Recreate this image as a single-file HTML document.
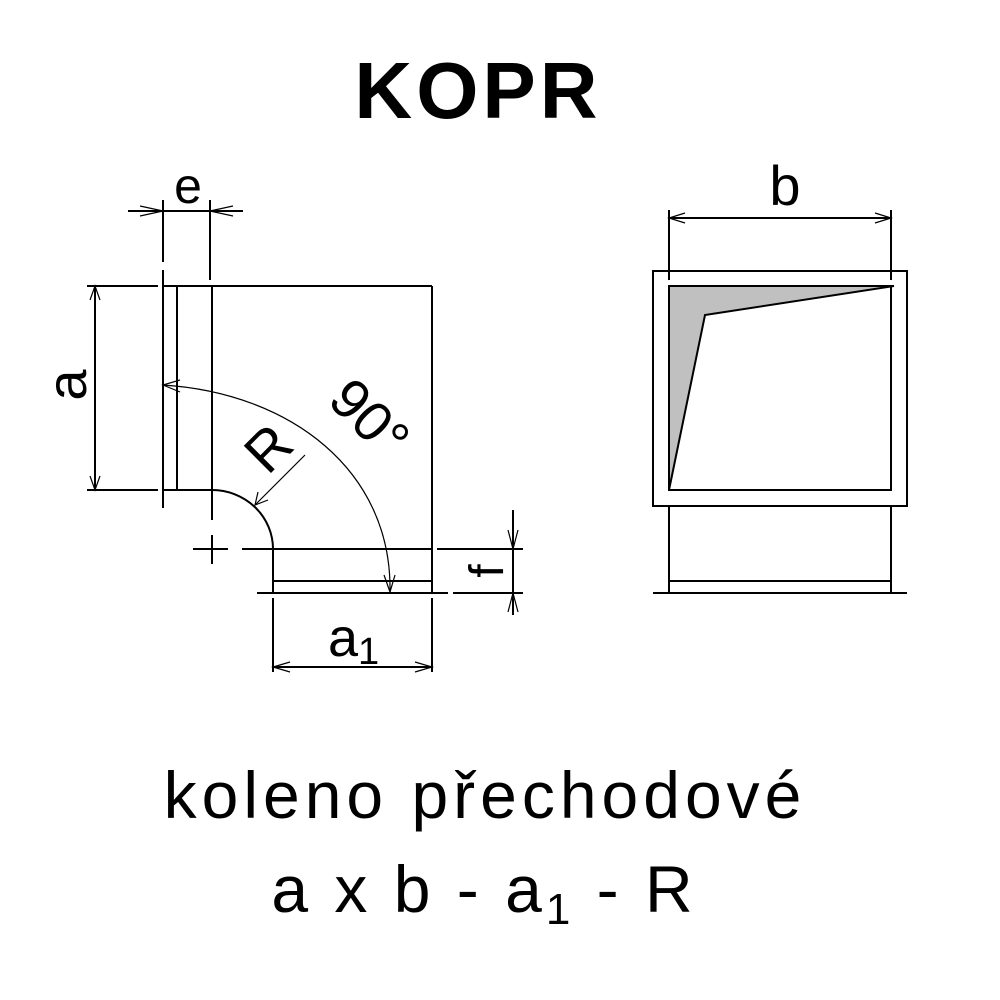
<!DOCTYPE html>
<html><head><style>body{margin:0;background:#fff}svg{display:block}</style></head>
<body>
<svg width="1000" height="1000" viewBox="0 0 1000 1000" font-family="Liberation Sans, Arial, sans-serif">
<rect width="1000" height="1000" fill="#fff"/>
<text x="478" y="118" font-size="80" font-weight="bold" text-anchor="middle" letter-spacing="4">KOPR</text>
<g stroke="#000" stroke-width="2" fill="none">
<line x1="128" y1="211" x2="243" y2="211"/>
<line x1="163" y1="200" x2="163" y2="262"/>
<line x1="210" y1="200" x2="210" y2="280"/>
<line x1="163" y1="270" x2="163" y2="508"/>
<line x1="177" y1="286" x2="177" y2="490"/>
<line x1="212" y1="286" x2="212" y2="520"/>
<line x1="212" y1="535" x2="212" y2="564"/>
<line x1="163" y1="286" x2="432" y2="286"/>
<line x1="432" y1="286" x2="432" y2="593"/>
<line x1="163" y1="490" x2="212" y2="490"/>
<path d="M212,490 A61,59 0 0 1 273,549"/>
<line x1="242" y1="549" x2="432" y2="549"/>
<line x1="437" y1="549" x2="523" y2="549"/>
<line x1="193" y1="549" x2="228" y2="549"/>
<line x1="273" y1="549" x2="273" y2="593"/>
<line x1="273" y1="581" x2="432" y2="581"/>
<line x1="257" y1="593" x2="448" y2="593"/>
<line x1="453" y1="593" x2="523" y2="593"/>
<line x1="95" y1="286" x2="95" y2="490"/>
<line x1="87" y1="286" x2="158" y2="286"/>
<line x1="87" y1="490" x2="158" y2="490"/>
<line x1="513" y1="510" x2="513" y2="615"/>
<line x1="273" y1="598" x2="273" y2="672"/>
<line x1="432" y1="598" x2="432" y2="672"/>
<line x1="273" y1="667" x2="432" y2="667"/>
<rect x="653" y="271" width="254" height="235"/>
<line x1="669" y1="210" x2="669" y2="280"/>
<line x1="891" y1="210" x2="891" y2="280"/>
<line x1="669" y1="218" x2="891" y2="218"/>
<line x1="669" y1="506" x2="669" y2="593"/>
<line x1="891" y1="506" x2="891" y2="593"/>
<line x1="669" y1="581" x2="891" y2="581"/>
<line x1="653" y1="593" x2="907" y2="593"/>
</g>
<polygon points="669,286 894,286 705,315 669,490" fill="#c0c0c0" stroke="#000" stroke-width="2"/>
<rect x="669" y="286" width="222" height="204" fill="none" stroke="#000" stroke-width="2"/>
<g stroke="#000" stroke-width="1.2" fill="none">
<path d="M163,385 C290,393 392,470 390,592"/>
<line x1="305" y1="455" x2="255" y2="505"/>
<path d="M140,206 L163,211 L140,216 M233,206 L210,211 L233,216"/>
<path d="M90,300 L95,286 L100,300 M90,476 L95,490 L100,476"/>
<path d="M508,530 L513,549 L518,530 M508,612 L513,593 L518,612"/>
<path d="M290,662 L273,667 L290,672 M415,662 L432,667 L415,672"/>
<path d="M685,213 L669,218 L685,223 M875,213 L891,218 L875,223"/>
<path d="M180,380 L163,385 L180,392 M384,575 L390,592 L395,575"/>
<path d="M258,492 L255,505 L268,500"/>
</g>
<g fill="#000">
<text x="188" y="203" font-size="50" text-anchor="middle">e</text>
<text x="785" y="205" font-size="56" text-anchor="middle">b</text>
<text transform="translate(86,385) rotate(-90)" font-size="56" text-anchor="middle">a</text>
<text transform="translate(282,462) rotate(-45)" font-size="56" text-anchor="middle">R</text>
<text transform="translate(356,432) rotate(45)" font-size="56" text-anchor="middle">90°</text>
<text transform="translate(503,571) rotate(-90)" font-size="48" text-anchor="middle">f</text>
<text x="328" y="656" font-size="54">a<tspan font-size="38" dy="8">1</tspan></text>
<text x="485" y="818" font-size="66" text-anchor="middle" letter-spacing="5">koleno přechodové</text>
<text x="484" y="912" font-size="66" text-anchor="middle" letter-spacing="4">a x b - a<tspan font-size="44" dy="12">1</tspan><tspan dy="-12"> - R</tspan></text>
</g>
</svg>
</body></html>
